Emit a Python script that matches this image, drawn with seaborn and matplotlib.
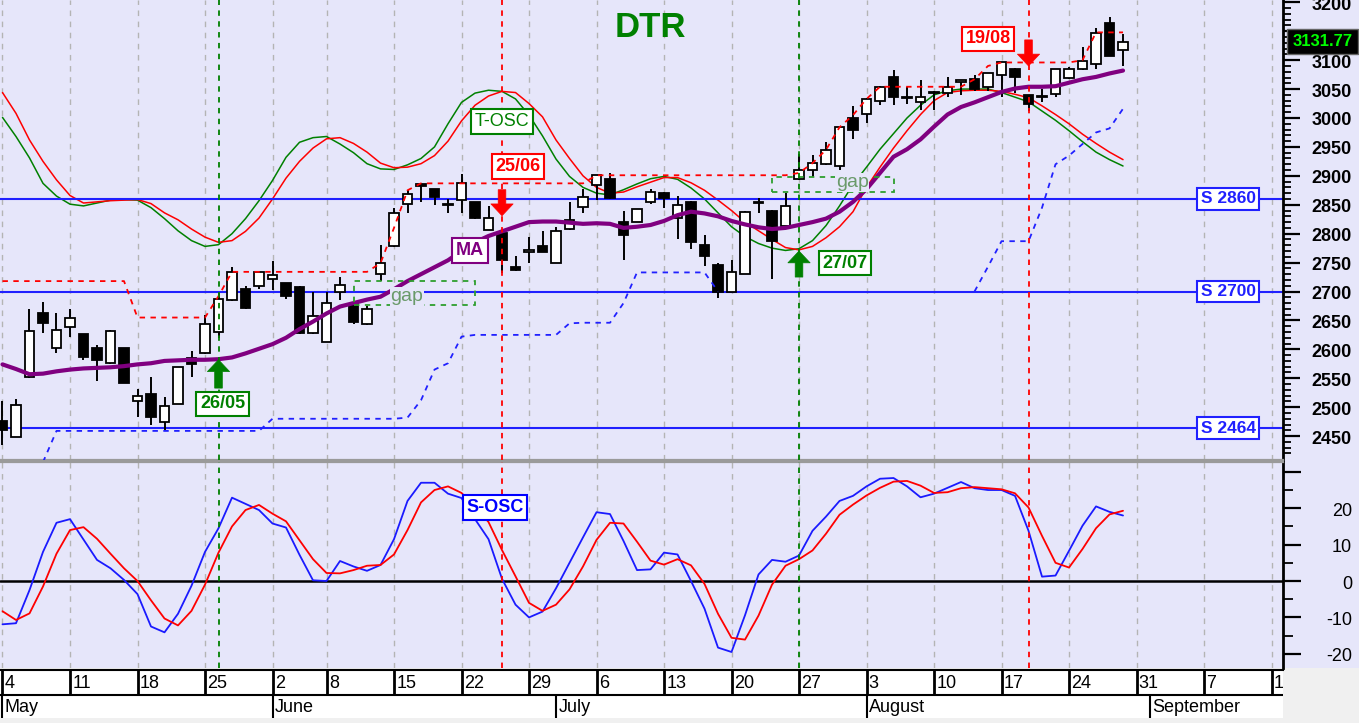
import numpy as np
import matplotlib
matplotlib.use("Agg")
import matplotlib.pyplot as plt
import matplotlib.transforms as mtransforms
from matplotlib.patches import Rectangle, FancyArrowPatch
import seaborn as sns

# ---------------- data ----------------
days = np.arange(84)  # trading-day index, 4 May .. 28 Aug

open_ = [2476, 2449, 2552, 2663, 2602, 2639, 2626, 2603, 2576, 2602,
         2511, 2523, 2475, 2506, 2585, 2593, 2630, 2685, 2705, 2710,
         2721, 2714, 2708, 2628, 2613, 2699, 2679, 2643, 2731, 2778,
         2851, 2886, 2877, 2852, 2858, 2854, 2807, 2802, 2742, 2769,
         2778, 2750, 2808, 2846, 2884, 2894, 2821, 2821, 2855, 2871,
         2827, 2855, 2781, 2745, 2700, 2731, 2853, 2840, 2813, 2894,
         2910, 2920, 2917, 3000, 3007, 3029, 3071, 3037, 3027, 3043,
         3043, 3062, 3067, 3053, 3075, 3085, 3039, 3037, 3041, 3069,
         3085, 3094, 3165, 3117]
high = [2511, 2514, 2670, 2682, 2663, 2669, 2627, 2608, 2633, 2603,
        2531, 2552, 2517, 2569, 2597, 2659, 2698, 2743, 2710, 2735,
        2752, 2715, 2709, 2700, 2700, 2725, 2680, 2675, 2781, 2844,
        2876, 2887, 2878, 2860, 2903, 2855, 2848, 2805, 2762, 2794,
        2804, 2812, 2854, 2877, 2902, 2905, 2840, 2843, 2877, 2872,
        2865, 2856, 2798, 2750, 2755, 2839, 2861, 2841, 2871, 2937,
        2936, 2958, 2985, 3020, 3034, 3055, 3083, 3054, 3065, 3046,
        3071, 3066, 3075, 3078, 3097, 3086, 3040, 3050, 3085, 3088,
        3122, 3155, 3175, 3145]
low = [2434, 2448, 2550, 2629, 2593, 2622, 2582, 2545, 2575, 2541,
       2483, 2470, 2460, 2505, 2552, 2592, 2619, 2684, 2670, 2705,
       2702, 2687, 2627, 2627, 2612, 2685, 2643, 2642, 2718, 2777,
       2835, 2855, 2850, 2836, 2836, 2826, 2806, 2732, 2735, 2750,
       2768, 2749, 2806, 2836, 2858, 2860, 2754, 2820, 2851, 2844,
       2790, 2774, 2744, 2689, 2699, 2730, 2836, 2721, 2812, 2893,
       2898, 2918, 2910, 2963, 2991, 3022, 3022, 3025, 3013, 3013,
       3036, 3039, 3047, 3047, 3036, 3043, 3012, 3027, 3037, 3068,
       3083, 3085, 3107, 3090]
close = [2460, 2504, 2632, 2645, 2633, 2655, 2586, 2581, 2632, 2542,
         2520, 2483, 2502, 2569, 2574, 2644, 2687, 2734, 2671, 2734,
         2728, 2692, 2628, 2657, 2681, 2711, 2648, 2670, 2749, 2835,
         2869, 2882, 2863, 2850, 2887, 2827, 2827, 2755, 2737, 2772,
         2769, 2804, 2823, 2863, 2901, 2861, 2798, 2842, 2872, 2861,
         2850, 2785, 2762, 2700, 2733, 2838, 2854, 2788, 2848, 2910,
         2922, 2945, 2984, 2980, 3033, 3054, 3036, 3035, 3037, 3045,
         3054, 3065, 3050, 3077, 3096, 3071, 3025, 3036, 3085, 3085,
         3098, 3147, 3108, 3131.77]

ma = [2574, 2566, 2557, 2558, 2562, 2565, 2567, 2568, 2569, 2571,
      2574, 2576, 2580, 2581, 2582, 2582, 2583, 2586, 2593, 2601,
      2609, 2620, 2635, 2648, 2662, 2674, 2680, 2686, 2691, 2704,
      2718, 2730, 2742, 2754, 2770, 2785, 2796, 2804, 2812, 2820,
      2821, 2821, 2819, 2817, 2818, 2817, 2810, 2812, 2815, 2822,
      2832, 2838, 2835, 2830, 2822, 2816, 2811, 2808, 2810, 2815,
      2820, 2826, 2838, 2855, 2877, 2905, 2933, 2946, 2963, 2985,
      3006, 3019, 3027, 3036, 3045, 3051, 3054, 3054, 3055, 3061,
      3067, 3071, 3077, 3082]

tosc_fast = [3001, 2968, 2931, 2887, 2865, 2851, 2848, 2853, 2858, 2859,
             2858, 2845, 2826, 2805, 2788, 2778, 2781, 2800, 2826, 2857,
             2892, 2932, 2958, 2966, 2968, 2955, 2940, 2921, 2912, 2911,
             2919, 2930, 2950, 2990, 3027, 3043, 3048, 3046, 3033, 3005,
             2969, 2929, 2899, 2880, 2870, 2867, 2876, 2886, 2895, 2899,
             2894, 2879, 2860, 2836, 2812, 2795, 2783, 2775, 2771, 2774,
             2788, 2814, 2848, 2885, 2915, 2946, 2973, 3000, 3022, 3040,
             3047, 3050, 3050, 3050, 3044, 3036, 3028, 3012, 2996, 2978,
             2959, 2941, 2928, 2917]
tosc_slow = [3044, 3008, 2962, 2925, 2893, 2866, 2853, 2855, 2857, 2858,
             2859, 2852, 2836, 2824, 2808, 2794, 2785, 2788, 2804, 2827,
             2860, 2896, 2925, 2948, 2964, 2966, 2956, 2941, 2922, 2914,
             2915, 2921, 2935, 2960, 2995, 3022, 3038, 3046, 3044, 3025,
             3002, 2962, 2930, 2900, 2880, 2870, 2872, 2881, 2889, 2897,
             2897, 2888, 2875, 2858, 2840, 2820, 2805, 2790, 2776, 2772,
             2778, 2793, 2812, 2838, 2880, 2915, 2948, 2978, 3006, 3030,
             3044, 3047, 3048, 3048, 3046, 3041, 3035, 3021, 3006, 2990,
             2972, 2956, 2941, 2928]

sosc_fast = [-11.9, -11.6, -2.5, 8.0, 16.0, 17.0, 11.4, 5.8, 3.5, 0.3,
             -3.6, -12.5, -14.1, -9.0, -1.3, 8.0, 14.5, 22.9, 21.2, 19.5,
             15.8, 14.7, 7.2, 0.2, 0.0, 5.5, 4.0, 2.8, 4.4, 11.5,
             22.0, 27.0, 27.0, 24.0, 22.8, 17.0, 11.5, 0.6, -6.5, -10.0,
             -8.4, -2.0, 5.0, 12.0, 18.9, 18.4, 11.0, 3.0, 3.2, 7.8,
             7.3, 0.0, -7.6, -18.3, -19.5, -9.4, 1.8, 5.8, 5.3, 7.0,
             13.8, 17.7, 22.0, 23.4, 26.0, 28.1, 28.3, 26.0, 23.0, 24.0,
             25.6, 27.2, 25.5, 25.0, 25.0, 23.4, 13.8, 1.2, 1.5, 8.3,
             15.2, 20.5, 19.0, 18.0]
sosc_slow = [-8.3, -10.7, -8.9, -1.5, 7.5, 14.0, 14.8, 11.6, 7.5, 3.5,
             0.0, -5.3, -10.3, -12.2, -8.2, -1.0, 7.8, 15.0, 19.5, 20.9,
             18.5, 16.4, 11.2, 6.0, 2.2, 2.1, 3.0, 4.2, 4.4, 7.3,
             14.0, 21.6, 25.0, 26.0, 24.2, 20.5, 16.2, 8.5, 1.3, -6.0,
             -8.2, -6.5, -2.3, 4.0, 11.3, 16.0, 15.8, 10.8, 5.6, 4.5,
             6.0, 4.3, -0.8, -9.0, -15.6, -16.1, -9.5, -1.0, 4.2, 6.0,
             8.4, 13.0, 18.2, 21.0, 23.5, 25.6, 27.3, 27.5, 26.2, 24.2,
             24.4, 25.5, 25.8, 25.5, 25.2, 24.1, 20.2, 12.4, 5.0, 3.7,
             8.8, 14.5, 18.3, 19.3]

nan = np.nan
stop_upper = ([2718] * 10 + [2655] * 6 + [2692] + [2734] * 11 + [2749, 2810, 2875]
              + [2887] * 13 + [2901] * 15 + [2905, 2922, 2945, 2984, 3005, 3033]
              + [3054] * 7 + [3067, 3090] + [3096] * 6 + [3100] + [3148] * 3)
stop_lower = ([nan] * 3 + [2405] + [2459] * 16 + [2480] * 10 + [2482, 2512, 2565, 2576, 2622]
              + [2625] * 7 + [2645] + [2646] * 3 + [2680] + [2733] * 6 + [2700]
              + [nan] * 18 + [2700, 2743, 2787, 2787, 2787, 2845, 2920, 2935, 2955, 2975, 2982, 3016])

support_levels = [2860, 2700, 2464]
last_price = 3131.77

signal_days = [16, 37, 59, 76]
signal_dates = ["26/05", "25/06", "27/07", "19/08"]
signal_buy = [True, False, True, False]
arrow_tail = [2533, 2876, 2725, 3135]
arrow_tip = [2582, 2831, 2770, 3090]
signal_label_x = [16.3, 38.2, 62.4, 73.0]
signal_label_y = [2506, 2916, 2749, 3137]

gap_start = [26, 57]
gap_end = [35, 66]
gap_low = [2676, 2872]
gap_high = [2719, 2898]
gap_text_x = [29.96, 62.93]
gap_text_y = [2692, 2888]

week_start_idx = [0, 5, 10, 15, 20, 24, 29, 34, 39, 44, 49, 54, 59, 64, 69, 74, 79, 84, 89, 94]
week_labels = ["4", "11", "18", "25", "2", "8", "15", "22", "29", "6", "13", "20", "27",
               "3", "10", "17", "24", "31", "7", "14"]
month_start_idx = [0, 20, 41, 64, 85]
month_labels = ["May", "June", "July", "August", "September"]

price_ticks = list(range(2450, 3201, 50))
price_labelled = [t for t in price_ticks if t != 3150]   # 3150 sits under the last-price box
osc_ticks = [-20, -10, 0, 10, 20]

# ---------------- style ----------------
sns.set_style("white")
plt.rcParams['font.family'] = ['Liberation Sans', 'DejaVu Sans']

BG = '#e6e6fa'
GREEN = '#008000'
RED = '#ff0000'
BLUE = '#2020ff'
PURPLE = '#800080'
GRID = '#b4b4b4'

W, H = 1359, 723
fig = plt.figure(figsize=(W / 100, H / 100), dpi=100, facecolor=BG)


def fr(x0, y0, x1, y1):
    return [x0 / W, 1 - y1 / H, (x1 - x0) / W, (y1 - y0) / H]


fig.patches.append(Rectangle((0, 0), 1, (H - 668) / H, transform=fig.transFigure,
                             fc='#f0f0f0', ec='none', zorder=-5))

ax1 = fig.add_axes(fr(0, 0, 1283, 460))
ax2 = fig.add_axes(fr(0, 462, 1283, 668))
ax3 = fig.add_axes(fr(0, 670, 1283, 718))
ax3.set_zorder(2)

XL = (-0.185, 94.85)
for ax in (ax1, ax2, ax3):
    ax.set_xlim(*XL)
    ax.set_xticks([])
ax1.set_facecolor(BG)
ax2.set_facecolor(BG)
ax3.set_facecolor('white')
ax1.set_ylim(2408.7, 3204)
ax2.set_ylim(-23.9, 32.7)
ax3.set_ylim(0, 48)

# spines
for ax in (ax1, ax2):
    ax.spines['left'].set_visible(False)
    ax.spines['right'].set_color('black')
    ax.spines['right'].set_linewidth(2)
ax1.spines['top'].set_visible(False)
ax1.spines['bottom'].set_color('#9a9a9a')
ax1.spines['bottom'].set_linewidth(1.6)
ax2.spines['top'].set_color('#9a9a9a')
ax2.spines['top'].set_linewidth(1.6)
ax2.spines['bottom'].set_visible(False)
for s in ('left', 'right', 'bottom'):
    ax3.spines[s].set_visible(False)
ax3.spines['top'].set_color('black')
ax3.spines['top'].set_linewidth(1.5)
ax3.set_yticks([])

# y ticks on right
ax1.yaxis.tick_right()
ax1.set_yticks(price_ticks)
ax1.set_yticklabels([])
ax1.set_yticks(np.arange(2420, 3201, 10), minor=True)
ax1.tick_params(axis='y', which='major', length=12, width=1.6, color='black', direction='out')
ax1.tick_params(axis='y', which='minor', length=6, width=1.3, color='black', direction='out')
ax2.yaxis.tick_right()
ax2.set_yticks(osc_ticks + [30])
ax2.set_yticklabels([])
ax2.set_yticks([-15, -5, 5, 15, 25], minor=True)
ax2.tick_params(axis='y', which='major', length=13, width=1.6, color='black', direction='out')
ax2.tick_params(axis='y', which='minor', length=7, width=1.3, color='black', direction='out')

down3 = mtransforms.ScaledTranslation(0, -3 / 100, fig.dpi_scale_trans)
tr1 = mtransforms.blended_transform_factory(fig.transFigure, ax1.transData) + down3
for t in price_labelled:
    ax1.text(1352 / W, t, str(t), transform=tr1, ha='right', va='center',
             fontsize=13, fontweight='bold', color='black', clip_on=False)
tr2 = mtransforms.blended_transform_factory(fig.transFigure, ax2.transData) + down3
for t in osc_ticks:
    ax2.text(1352 / W, t, str(t), transform=tr2, ha='right', va='center',
             fontsize=13, color='black', clip_on=False)

# grid lines
for ax in (ax1, ax2):
    for d in week_start_idx:
        ax.axvline(d, color=GRID, lw=1, ls=(0, (4, 4)), zorder=0.5)

# support lines
for lvl in support_levels:
    ax1.axhline(lvl, color=BLUE, lw=1.5, zorder=2.5)
    ax1.text(90.78, lvl, f"S {lvl}", ha='center', va='center', fontsize=12.5,
             fontweight='bold', color=BLUE, zorder=8,
             bbox=dict(boxstyle='square,pad=0.2', fc='white', ec=BLUE, lw=1.5))

# T-OSC lines
sns.lineplot(x=days, y=tosc_fast, ax=ax1, color=GREEN, lw=1.1, zorder=2)
sns.lineplot(x=days, y=tosc_slow, ax=ax1, color=RED, lw=1.1, zorder=2)

# candles
o = np.array(open_, float); c = np.array(close, float)
hi = np.array(high, float); lo = np.array(low, float)
up = c >= o
ax1.vlines(days, lo, hi, color='black', lw=1.4, zorder=3)
body_lo = np.minimum(o, c)
body_h = np.maximum(np.abs(c - o), 1.5)
ax1.bar(days, body_h, bottom=body_lo, width=0.68,
        color=np.where(up, 'white', 'black'), edgecolor='black', linewidth=1.3, zorder=3.2)

# MA
sns.lineplot(x=days, y=ma, ax=ax1, color=PURPLE, lw=3, zorder=4)

# stop lines
ax1.plot(days, stop_upper, color=RED, lw=1.3, ls=(0, (3, 3)), zorder=4.2)
ax1.plot(days, stop_lower, color=BLUE, lw=1.3, ls=(0, (3, 3)), zorder=4.2)

# gaps
for gs, ge, gl, gh, tx, ty in zip(gap_start, gap_end, gap_low, gap_high, gap_text_x, gap_text_y):
    ax1.add_patch(Rectangle((gs, gl), ge - gs, gh - gl, fill=False, ec='#2e9e2e', lw=1.3,
                            ls=(0, (3, 3)), zorder=4.5))
    ax1.text(tx, ty, "gap", ha='center', va='center', fontsize=14, color='#6a9a6a', zorder=5,
             bbox=dict(boxstyle='square,pad=0.05', fc=BG, ec='none'))

# signals
for d, lab, buy, ta, tp, lx, ly in zip(signal_days, signal_dates, signal_buy, arrow_tail,
                                      arrow_tip, signal_label_x, signal_label_y):
    col = GREEN if buy else RED
    for ax in (ax1, ax2):
        ax.axvline(d, color=col, lw=1.3, ls=(0, (3, 3)), zorder=5)
    ax1.add_patch(FancyArrowPatch((d, ta), (d, tp),
                                  arrowstyle='simple,head_width=1.6,head_length=0.85,tail_width=0.55',
                                  mutation_scale=10, color=col, lw=0.5, shrinkA=0, shrinkB=0, zorder=7))
    ax1.text(lx, ly, lab, ha='center', va='center', fontsize=13, fontweight='bold', color=col,
             zorder=8, bbox=dict(boxstyle='square,pad=0.2', fc='white', ec=col, lw=1.5))

# labels
ax1.text(37.0, 2994, "T-OSC", ha='center', va='center', fontsize=13, color=GREEN, zorder=8,
         bbox=dict(boxstyle='square,pad=0.2', fc='white', ec=GREEN, lw=1.5))
ax1.text(34.63, 2771, "MA", ha='center', va='center', fontsize=13, fontweight='bold', color=PURPLE,
         zorder=8, bbox=dict(boxstyle='square,pad=0.2', fc='white', ec=PURPLE, lw=1.5))
ax1.text(650 / 1283, 1 - 27.5 / 460, "DTR", transform=ax1.transAxes, ha='center', va='center',
         fontsize=25, fontweight='bold', color=GREEN, zorder=8)

# last price box
trl = mtransforms.blended_transform_factory(fig.transFigure, ax1.transData)
ax1.text(1322.5 / W, last_price, f"{last_price:.2f}", transform=trl, ha='center', va='center',
         fontsize=12, fontweight='bold', color='#00ff00', clip_on=False, zorder=10,
         bbox=dict(boxstyle='square,pad=0.3', fc='black', ec='#666666', lw=1))

# lower panel
ax2.axhline(0, color='black', lw=1.8, zorder=1)
sns.lineplot(x=days, y=sosc_fast, ax=ax2, color='#1a1aff', lw=1.3, zorder=3)
sns.lineplot(x=days, y=sosc_slow, ax=ax2, color=RED, lw=1.3, zorder=3)
ax2.text(36.48, 20.2, "S-OSC", ha='center', va='center', fontsize=13, fontweight='bold',
         color='#0000ff', zorder=8,
         bbox=dict(boxstyle='square,pad=0.2', fc='white', ec='#0000ff', lw=1.5))

# date band
ax3.axhline(23, color='black', lw=1.5)
ax3.vlines(week_start_idx, 23, 48, color='black', lw=2)
ax3.vlines(month_start_idx, 0, 23, color='black', lw=1.5)
for d, lab in zip(week_start_idx, week_labels):
    ax3.text(d + 0.17, 34, lab, ha='left', va='center', fontsize=13, color='black', clip_on=True)
for d, lab in zip(month_start_idx, month_labels):
    ax3.text(d + 0.17, 11, lab, ha='left', va='center', fontsize=13, color='black', clip_on=True)

for ax in (ax1, ax2, ax3):
    ax.set_xlabel('')
    ax.set_ylabel('')
ax1.set_xlim(*XL); ax2.set_xlim(*XL); ax3.set_xlim(*XL)

fig.savefig("out.png", dpi=100, facecolor=BG)
